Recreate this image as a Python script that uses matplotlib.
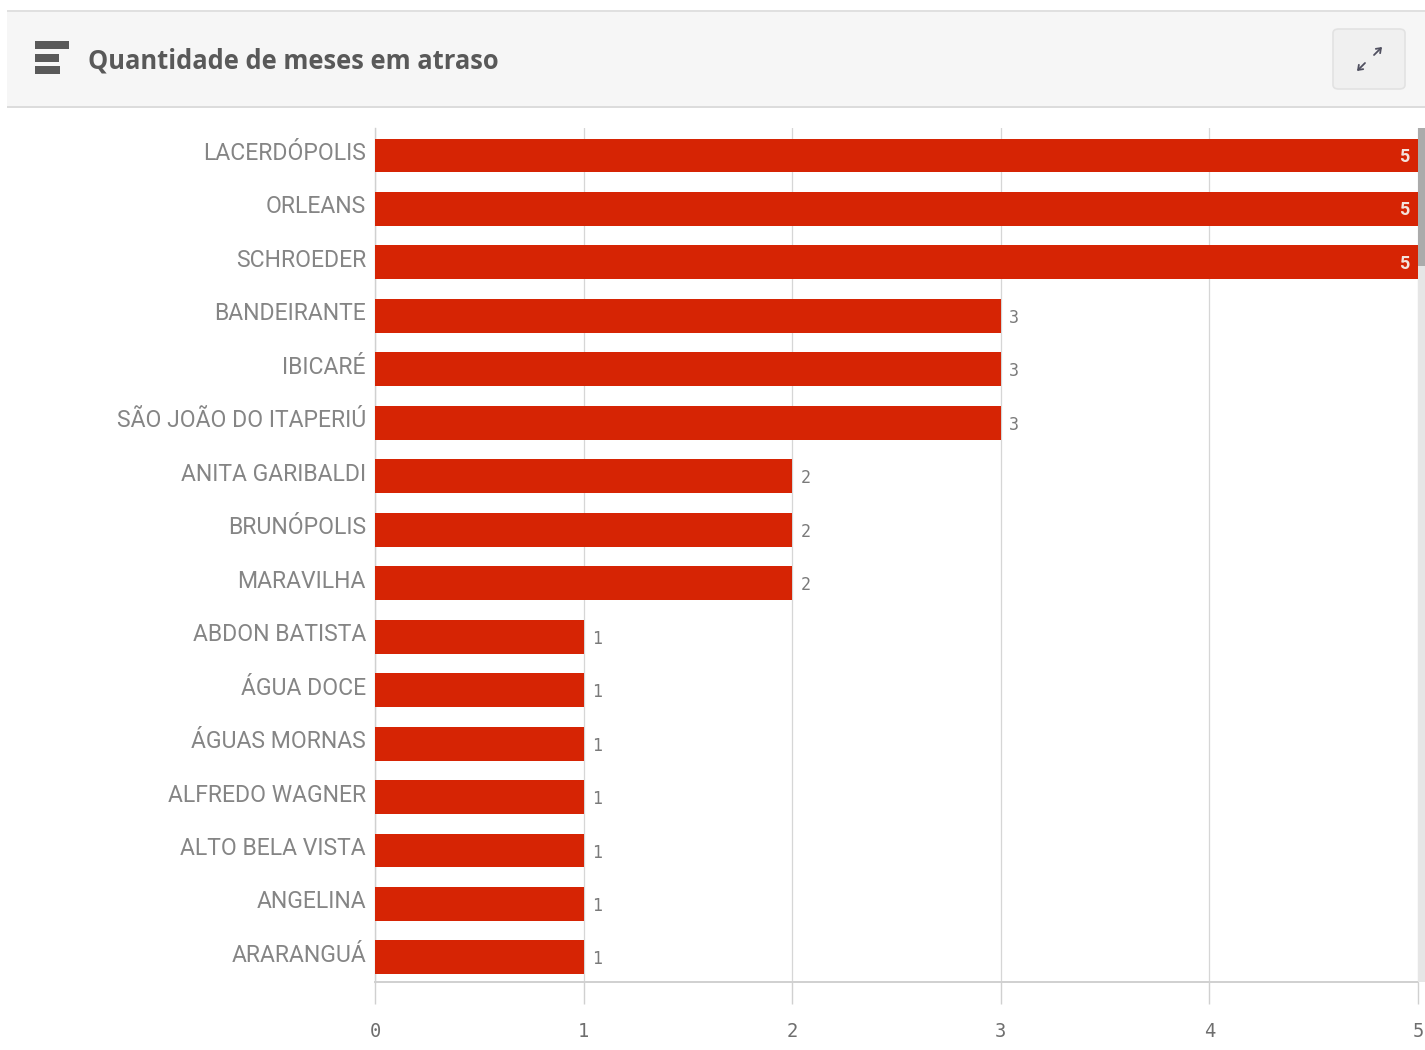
import matplotlib
matplotlib.use("Agg")
import matplotlib.pyplot as plt
from matplotlib.patches import Rectangle, FancyBboxPatch, FancyArrowPatch
from matplotlib.transforms import ScaledTranslation

W, H = 1425, 1050

cidades = ["LACERDÓPOLIS", "ORLEANS", "SCHROEDER", "BANDEIRANTE", "IBICARÉ",
           "SÃO JOÃO DO ITAPERIÚ", "ANITA GARIBALDI", "BRUNÓPOLIS", "MARAVILHA",
           "ABDON BATISTA", "ÁGUA DOCE", "ÁGUAS MORNAS", "ALFREDO WAGNER",
           "ALTO BELA VISTA", "ANGELINA", "ARARANGUÁ"]
meses = [5, 5, 5, 3, 3, 3, 2, 2, 2, 1, 1, 1, 1, 1, 1, 1]
xticks = [0, 1, 2, 3, 4, 5]
titulo = "Quantidade de meses em atraso"

plt.rcParams["font.family"] = ["Roboto", "DejaVu Sans"]

fig = plt.figure(figsize=(W / 100, H / 100), dpi=100)


def rect(x, y, w, h, cor):
    # pixels da imagem, origem no topo
    fig.add_artist(Rectangle((x / W, 1 - (y + h) / H), w / W, h / H,
                             transform=fig.transFigure, fc=cor, ec="none"))


# cabecalho
rect(7, 11, 1418, 96, "#f6f6f6")
rect(7, 10, 1418, 2, "#e0e0e0")
rect(7, 106, 1418, 2, "#dcdcdc")
rect(35, 41, 34, 8, "#595959")
rect(35, 54, 24, 8, "#595959")
rect(35, 66, 25, 8, "#595959")
fig.text(88 / W, 1 - 61 / H, titulo, fontsize=18.4, fontweight="bold",
         family="Open Sans", color="#595959", va="center", ha="left")

# botao de expandir
fig.add_artist(FancyBboxPatch((1333 / W, 1 - 89 / H), 72 / W, 60 / H,
                              boxstyle="round,pad=0,rounding_size=0.004",
                              transform=fig.transFigure, fc="#f0f0f0",
                              ec="#e2e2e2", lw=1.2))
for ini, fim in [((1374, 55), (1382, 47)), ((1365, 63), (1357, 71))]:
    fig.add_artist(FancyArrowPatch(
        (ini[0] / W, 1 - ini[1] / H), (fim[0] / W, 1 - fim[1] / H),
        transform=fig.transFigure, arrowstyle="->,head_length=3,head_width=2.2",
        color="#505060", lw=1.3, shrinkA=0, shrinkB=0))

# grafico
ax = fig.add_axes([375 / W, 1 - 982 / H, (1418 - 375) / W, (982 - 128) / H])
y = list(range(len(cidades)))
ax.barh(y, meses, height=0.635, color="#d62404", zorder=3)
ax.set_xlim(0, 5)
ax.set_ylim(15.46, -0.514)
ax.set_yticks(y)
ax.set_yticklabels(cidades, fontsize=16.6, color="#858585")
ax.tick_params(axis="y", length=0, pad=6.5)
sobe = ScaledTranslation(0, 4.5 / 100, fig.dpi_scale_trans)
for lab in ax.get_yticklabels():
    lab.set_transform(lab.get_transform() + sobe)
ax.set_xticks(xticks)
ax.set_xticklabels([str(v) for v in xticks], fontsize=13.5, family="DejaVu Sans Mono",
                   color="#6e6e6e")
ax.tick_params(axis="x", length=16, width=1, color="#d0d0d0", pad=12.5)
ax.grid(axis="x", color="#d6d6d6", lw=0.9, zorder=0)
for s in ["top", "right"]:
    ax.spines[s].set_visible(False)
ax.spines["left"].set_color("#d0d0d0")
ax.spines["left"].set_linewidth(1)
ax.spines["bottom"].set_color("#d0d0d0")
ax.spines["bottom"].set_linewidth(1.4)

for i, v in enumerate(meses):
    if v == max(xticks):
        ax.annotate(str(v), (v, i), xytext=(-6, -1), textcoords="offset points",
                    ha="right", va="center", fontsize=13, fontweight="bold",
                    color="#f3e3dd", zorder=5)
    else:
        ax.annotate(str(v), (v, i), xytext=(6, -1.5), textcoords="offset points",
                    ha="left", va="center", fontsize=12, family="DejaVu Sans Mono",
                    color="#7a7a7a", zorder=5)

# barra de rolagem
rect(1418, 128, 7, 854, "#e6e6e6")
rect(1418, 128, 7, 138, "#ababab")

fig.savefig("out.png", dpi=100)
